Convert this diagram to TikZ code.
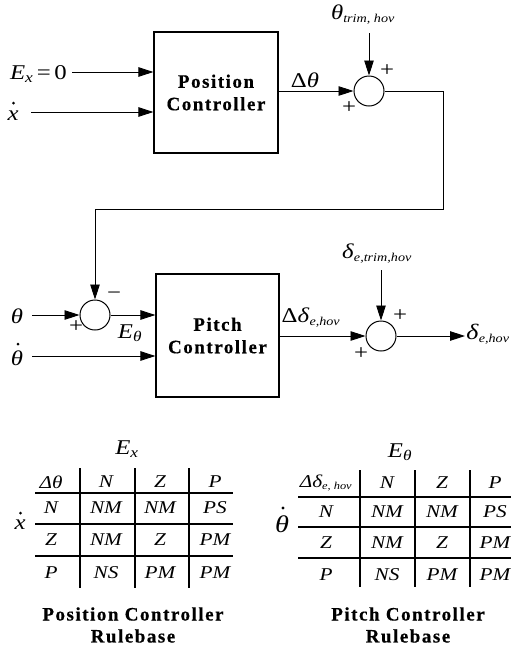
\documentclass[tikz,border=0pt]{standalone}
\usepackage{fontspec}
\setmainfont{Liberation Serif}[FakeStretch=1.18]
\newfontfamily\boldsp[LetterSpace=8, BoldFeatures={FakeBold=0.5}]{Liberation Serif}
\usetikzlibrary{arrows.meta}
\newcommand\isub[1]{\textsubscript{\textit{#1}}}
\tikzset{
  blk/.style={draw, line width=1.2pt, inner sep=0pt, align=center,
    font=\boldsp\bfseries\fontsize{19}{22.5}\selectfont},
  sumn/.style={circle, draw, line width=1pt, minimum size=30pt, inner sep=0pt},
  arr/.style={line width=0.9pt, -{Triangle[length=15pt,width=9.5pt]}},
  lbl/.style={inner sep=0pt, font=\fontsize{21}{24}\selectfont},
  sgn/.style={inner sep=0pt, font=\fontsize{21}{24}\selectfont},
  cell/.style={inner sep=0pt, font=\itshape\fontsize{18}{20}\selectfont},
  grid/.style={line width=1.1pt},
  ttl/.style={inner sep=0pt, font=\boldsp\bfseries\fontsize{19}{22}\selectfont},
  dotmark/.style={fill=black}
}
\begin{document}
\begin{tikzpicture}[x=1pt,y=-1pt]
\useasboundingbox (0,0) rectangle (511,649);
\fill[white] (0,0) rectangle (511,649);

% blocks
\node[blk, minimum width=124pt, minimum height=121pt] (pc) at (216,92.5) {Position\\Controller};
\node[blk, minimum width=123pt, minimum height=123pt] (ptc) at (217.5,335.5) {Pitch\\Controller};
\node[sumn] (s1) at (369,91) {};
\node[sumn] (s2) at (95,315) {};
\node[sumn] (s3) at (381,336) {};

% upper inputs
\node[lbl, anchor=base east] (exl) at (67,79) {\textit{E}\isub{x}\,=\,0};
\coordinate (exs) at (72,72);
\draw[arr] (exs) -- (exs -| pc.west);
\node[lbl, anchor=base] (xdl) at (13,120) {\textit{x}};
\fill[dotmark] (13.5,103) circle (1.5pt);
\coordinate (xds) at (31,112);
\draw[arr] (xds) -- (xds -| pc.west);

\draw[arr] (s1.west -| pc.east) -- (s1.west);
\node[lbl] (dth) at (305,80) {Δ\textit{θ}};
\node[lbl] (thtrim) at (363,15) {\textit{θ}\textsubscript{\itshape\fontsize{12}{12}\selectfont trim, hov}};
\coordinate (tts) at (369,33);
\draw[arr] (tts) -- (s1.north);
\node[sgn] (p1a) at (387,71) {+};
\node[sgn] (p1b) at (349,108) {+};

% feedback
\coordinate (c2) at (443,209);
\draw[arr] (s1.east) -| (c2) -| (s2.north);

% lower inputs
\node[lbl] (thl) at (17,316) {\textit{θ}};
\coordinate (ths) at (32,315);
\draw[arr] (ths) -- (s2.west);
\node[sgn] (m2) at (114,296) {−};
\node[sgn] (p2) at (76,327) {+};
\draw[arr] (s2.east) -- (s2.east -| ptc.west);
\node[lbl] (eth) at (130,333) {\textit{E}\isub{θ}};
\node[lbl] (tdl) at (17,358) {\textit{θ}};
\fill[dotmark] (18,344) circle (1.5pt);
\coordinate (tds) at (32,356);
\draw[arr] (tds) -- (tds -| ptc.west);

% output side
\draw[arr] (s3.west -| ptc.east) -- (s3.west);
\node[lbl] (dde) at (311,318) {Δ\textit{δ}\textsubscript{\itshape\fontsize{12}{12}\selectfont e,hov}};
\node[lbl] (dtrim) at (377,254) {\textit{δ}\textsubscript{\itshape\fontsize{12}{12}\selectfont e,trim,hov}};
\coordinate (dts) at (381,270);
\draw[arr] (dts) -- (s3.north);
\node[sgn] (p3a) at (400,316) {+};
\node[sgn] (p3b) at (361,354) {+};
\coordinate (dout) at (465,336);
\draw[arr] (s3.east) -- (dout);
\node[lbl, font=\fontsize{22}{24}\selectfont] (dhov) at (488,334) {\textit{δ}\textsubscript{\itshape\fontsize{12}{12}\selectfont e,hov}};

% table 1
\node[lbl] (t1e) at (127,449) {\textit{E}\isub{x}};
\node[lbl, anchor=base] (t1x) at (20,529) {\textit{x}};
\fill[dotmark] (20.5,513) circle (1.5pt);
\foreach \y in {493,524,556} \draw[grid] (35,\y) -- (233,\y);
\foreach \x in {80,135,189} \draw[grid] (\x,468) -- (\x,588);
\foreach \r/\y in {0/482,1/508,2/540,3/573} {
  \foreach \c/\x in {0/51,1/106,2/160,3/215} {
    \coordinate (t1-\r-\c) at (\x,\y);
  }
}
\node[cell] (a00) at (t1-0-0) {Δθ};
\node[cell] (a01) at (t1-0-1) {N};
\node[cell] (a02) at (t1-0-2) {Z};
\node[cell] (a03) at (t1-0-3) {P};
\node[cell] (a10) at (t1-1-0) {N};
\node[cell] (a11) at (t1-1-1) {NM};
\node[cell] (a12) at (t1-1-2) {NM};
\node[cell] (a13) at (t1-1-3) {PS};
\node[cell] (a20) at (t1-2-0) {Z};
\node[cell] (a21) at (t1-2-1) {NM};
\node[cell] (a22) at (t1-2-2) {Z};
\node[cell] (a23) at (t1-2-3) {PM};
\node[cell] (a30) at (t1-3-0) {P};
\node[cell] (a31) at (t1-3-1) {NS};
\node[cell] (a32) at (t1-3-2) {PM};
\node[cell] (a33) at (t1-3-3) {PM};
\node[ttl] (t1t1) at (133,614) {Position Controller};
\node[ttl] (t1t2) at (133,636) {Rulebase};

% table 2
\node[lbl] (t2e) at (400,452) {\textit{E}\isub{θ}};
\node[lbl, font=\fontsize{24}{26}\selectfont] (t2t) at (282,524) {\textit{θ}};
\fill[dotmark] (283,508) circle (1.6pt);
\foreach \y in {497,527,558} \draw[grid] (298,\y) -- (511,\y);
\foreach \x in {360,415,470} \draw[grid] (\x,470) -- (\x,587);
\foreach \r/\y in {0/483,1/512,2/543,3/575} {
  \foreach \c/\x in {0/326,1/387,2/442,3/495} {
    \coordinate (t2-\r-\c) at (\x,\y);
  }
}
\node[cell] (b00) at (t2-0-0) {Δδ\textsubscript{\fontsize{10.5}{11}\selectfont e, hov}};
\node[cell] (b01) at (t2-0-1) {N};
\node[cell] (b02) at (t2-0-2) {Z};
\node[cell] (b03) at (t2-0-3) {P};
\node[cell] (b10) at (t2-1-0) {N};
\node[cell] (b11) at (t2-1-1) {NM};
\node[cell] (b12) at (t2-1-2) {NM};
\node[cell] (b13) at (t2-1-3) {PS};
\node[cell] (b20) at (t2-2-0) {Z};
\node[cell] (b21) at (t2-2-1) {NM};
\node[cell] (b22) at (t2-2-2) {Z};
\node[cell] (b23) at (t2-2-3) {PM};
\node[cell] (b30) at (t2-3-0) {P};
\node[cell] (b31) at (t2-3-1) {NS};
\node[cell] (b32) at (t2-3-2) {PM};
\node[cell] (b33) at (t2-3-3) {PM};
\node[ttl] (t2t1) at (408,614) {Pitch Controller};
\node[ttl] (t2t2) at (408,636) {Rulebase};
\end{tikzpicture}
\end{document}
